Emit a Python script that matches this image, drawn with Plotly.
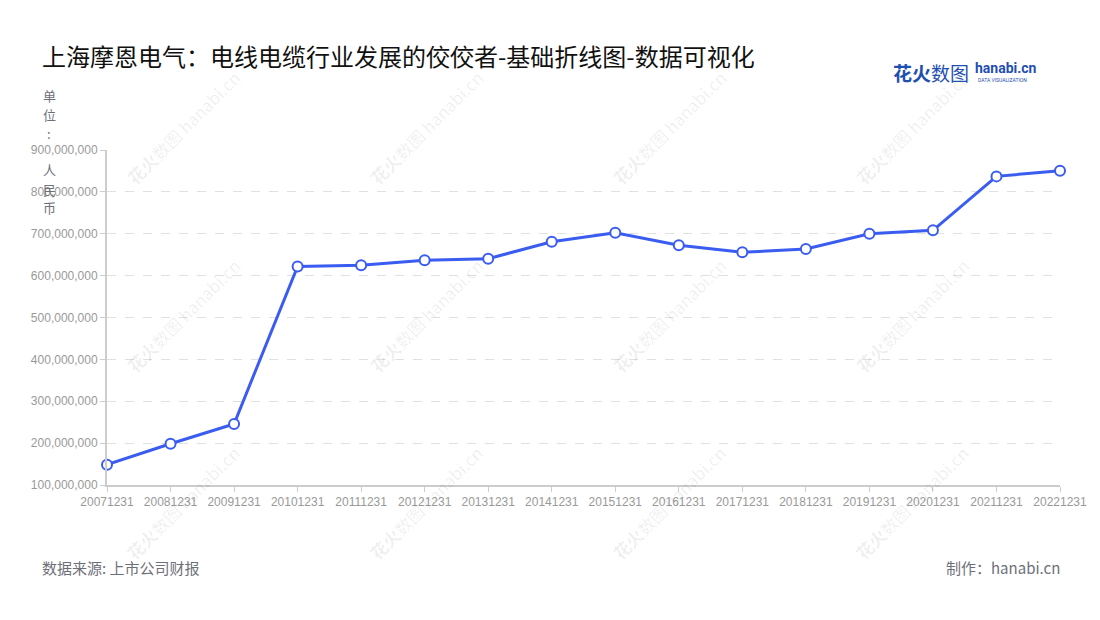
import plotly.graph_objects as go

dates = ["20071231", "20081231", "20091231", "20101231", "20111231", "20121231",
         "20131231", "20141231", "20151231", "20161231", "20171231", "20181231",
         "20191231", "20201231", "20211231", "20221231"]
values = [148500000, 198600000, 245700000, 622000000, 625000000, 636500000,
          640500000, 681000000, 702500000, 672400000, 655600000, 663600000,
          700200000, 708200000, 837000000, 850700000]
y_ticks = [100000000, 200000000, 300000000, 400000000, 500000000,
           600000000, 700000000, 800000000, 900000000]

title_text = "上海摩恩电气：电线电缆行业发展的佼佼者-基础折线图-数据可视化"
unit_chars = ["单", "位", ":", "人", "民", "币"]
source_text = "数据来源: 上市公司财报"
maker_text = "制作：hanabi.cn"

LINE = "#3a5cf0"

# page body has an 8px margin; plot area target in page pixels: x 107..1060, y 150..485
OFF = 8
PL, PR, PT, PB = 107, 1060, 150, 485
PW, PH = PR - PL, PB - PT


def px(x):
    return (x - PL) / PW


def py(y):
    return (PB - y) / PH


fig = go.Figure()
fig.add_trace(go.Scatter(
    x=dates, y=values, mode="lines+markers",
    line=dict(color=LINE, width=3),
    marker=dict(size=10, color="white", line=dict(color=LINE, width=2)),
    cliponaxis=False, hoverinfo="x+y"
))

annotations = []
# watermarks
for cx in [183, 426, 669, 912]:
    for cy in [127, 315, 503]:
        annotations.append(dict(
            xref="paper", yref="paper", x=px(cx), y=py(cy),
            text="<b>花火</b>数图 hanabi.cn", showarrow=False, textangle=-45,
            font=dict(family="Noto Sans CJK SC", size=17, color="rgba(0,0,0,0.07)"),
            xanchor="center", yanchor="middle"))

# title
annotations.append(dict(xref="paper", yref="paper", x=px(40), y=py(55),
                        text=title_text, showarrow=False, xanchor="left", yanchor="middle",
                        font=dict(family="Noto Sans CJK SC", size=24, color="#111111")))
# unit label (stacked characters)
for ch, cy in zip(unit_chars, [95, 114, 133, 170, 189, 207]):
    annotations.append(dict(xref="paper", yref="paper", x=px(49), y=py(cy),
                            text=ch, showarrow=False, xanchor="center", yanchor="middle",
                            font=dict(family="Noto Sans CJK SC", size=13, color="#6e7079")))
# footer
annotations.append(dict(xref="paper", yref="paper", x=px(40), y=py(567),
                        text=source_text, showarrow=False, xanchor="left", yanchor="middle",
                        font=dict(family="Noto Sans CJK SC", size=15, color="#6e7079")))
annotations.append(dict(xref="paper", yref="paper", x=px(1062), y=py(567),
                        text=maker_text, showarrow=False, xanchor="right", yanchor="middle",
                        font=dict(family="Noto Sans CJK SC", size=15, color="#6e7079")))
# logo
annotations.append(dict(xref="paper", yref="paper", x=px(891), y=py(72),
                        text="<b>花火</b>数图", showarrow=False, xanchor="left", yanchor="middle",
                        font=dict(family="Noto Sans CJK SC", size=19, color="#1f4fb0")))
annotations.append(dict(xref="paper", yref="paper", x=px(973), y=py(68),
                        text="<b>hanabi.cn</b>", showarrow=False, xanchor="left", yanchor="middle",
                        font=dict(family="Roboto", size=14, color="#1f4fb0")))
annotations.append(dict(xref="paper", yref="paper", x=px(976), y=py(80),
                        text="DATA VISUALIZATION", showarrow=False, xanchor="left", yanchor="middle",
                        font=dict(family="Roboto", size=5, color="#1f4fb0")))

fig.update_layout(
    width=1100 - OFF, height=620 - OFF,
    margin=dict(l=PL - OFF, r=1100 - PR, t=PT - OFF, b=620 - PB),
    paper_bgcolor="white", plot_bgcolor="white",
    showlegend=False,
    annotations=annotations,
    xaxis=dict(
        type="category", range=[0, len(dates) - 1],
        showgrid=False, zeroline=False,
        showline=True, linecolor="#cccccc", linewidth=2,
        ticks="outside", ticklen=5, tickcolor="#cccccc", tickwidth=1,
        tickfont=dict(family="Liberation Sans", size=12, color="#999999"),
        tickangle=0,
    ),
    yaxis=dict(
        range=[100000000, 900000000],
        tickvals=y_ticks, tickformat=",d",
        showgrid=True, gridcolor="#e0e0e0", griddash="dash", gridwidth=1,
        zeroline=False,
        showline=True, linecolor="#cccccc", linewidth=2,
        ticks="outside", ticklen=5, tickcolor="#cccccc", tickwidth=1,
        tickfont=dict(family="Liberation Sans", size=12, color="#999999"),
    ),
)

fig.write_html("out.html")
